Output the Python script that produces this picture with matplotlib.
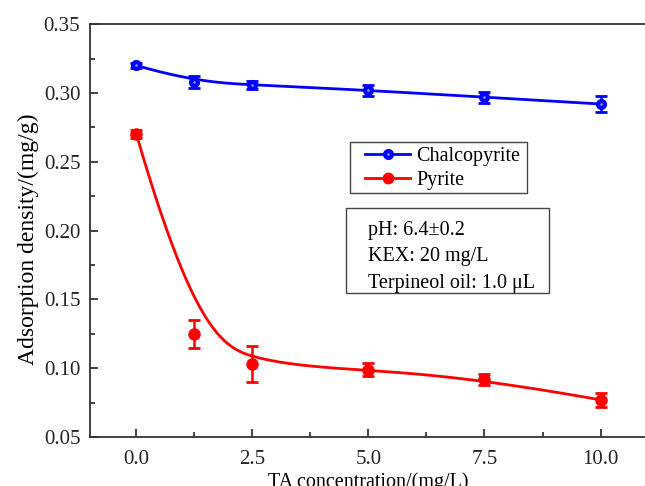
import numpy as np
import matplotlib
matplotlib.use('Agg')
import matplotlib.pyplot as plt
from matplotlib.patches import Rectangle
from matplotlib.legend_handler import HandlerTuple

# ── DATA ─────────────────────────────────────────────────────────
ta_conc = [0.0, 1.25, 2.5, 5.0, 7.5, 10.0]

chalco_y   = [0.320, 0.308, 0.306, 0.302, 0.297, 0.292]
chalco_err = [0.002, 0.004, 0.003, 0.004, 0.004, 0.006]

pyrite_y   = [0.270, 0.125, 0.103, 0.099, 0.092, 0.077]
pyrite_err = [0.003, 0.010, 0.013, 0.005, 0.004, 0.005]

conditions = ["pH: 6.4\u00b10.2", "KEX: 20 mg/L", "Terpineol oil: 1.0 \u03bcL"]


def bspline(xp, yp, degree=3, n=400):
    """Clamped uniform B-spline using the data points as control points
    (like Origin's 'B-Spline' connect mode)."""
    P = np.column_stack([xp, yp])
    m = len(P)
    inner = np.linspace(0, 1, m - degree + 1)[1:-1]
    t = np.concatenate([np.zeros(degree + 1), inner, np.ones(degree + 1)])
    u = np.linspace(0, 1, n)
    u[-1] -= 1e-12
    # Cox-de Boor
    N = np.array([((t[i] <= u) & (u < t[i + 1])).astype(float)
                  for i in range(len(t) - 1)])
    for p in range(1, degree + 1):
        Nn = np.zeros((len(t) - 1 - p, n))
        for i in range(len(t) - 1 - p):
            a = 0.0 if t[i + p] == t[i] else (u - t[i]) / (t[i + p] - t[i]) * N[i]
            b = 0.0 if t[i + p + 1] == t[i + 1] else \
                (t[i + p + 1] - u) / (t[i + p + 1] - t[i + 1]) * N[i + 1]
            Nn[i] = a + b
        N = Nn
    C = N.T @ P
    return C[:, 0], C[:, 1]


plt.rcParams['font.family'] = ['Liberation Serif', 'DejaVu Serif']

fig = plt.figure(figsize=(6.45, 4.86), dpi=100)
ax = fig.add_axes([0.1395, 0.1008, 0.8635, 0.8494])

BLUE = '#0000ff'
RED = '#ff0000'
DOT = '#8fa3ff'

# B-spline connecting curves
bx, by = bspline(ta_conc, chalco_y)
ax.plot(bx, by, color=BLUE, lw=2.0, zorder=2)
bx, by = bspline(ta_conc, pyrite_y)
ax.plot(bx, by, color=RED, lw=2.0, zorder=2)

# data with error bars
ax.errorbar(ta_conc, chalco_y, yerr=chalco_err, fmt='o', color=BLUE,
            ms=7, capsize=4, capthick=2, elinewidth=1.8, zorder=3)
ax.plot(ta_conc, chalco_y, 'o', color=DOT, ms=1.8, mew=0, zorder=4)
ax.errorbar(ta_conc, pyrite_y, yerr=pyrite_err, fmt='o', color=RED,
            ms=8, capsize=4, capthick=2, elinewidth=1.8, zorder=3)

# ── AXES ─────────────────────────────────────────────────────────
ax.set_xlim(-1, 11)
ax.set_ylim(0.05, 0.35)
ax.set_xticks([0.0, 2.5, 5.0, 7.5, 10.0])
ax.set_xticks([1.25, 3.75, 6.25, 8.75], minor=True)
ax.set_yticks(np.arange(0.05, 0.351, 0.05))
ax.set_yticks(np.arange(0.075, 0.35, 0.05), minor=True)
ax.xaxis.set_major_formatter(matplotlib.ticker.FormatStrFormatter('%.1f'))
ax.yaxis.set_major_formatter(matplotlib.ticker.FormatStrFormatter('%.2f'))
ax.tick_params(which='both', direction='in', labelsize=15, width=1.2,
               top=False, right=False, colors='#222222')
ax.tick_params(which='major', length=6)
ax.tick_params(which='minor', length=3.5)
ax.tick_params(axis='x', pad=9.5)
ax.tick_params(axis='y', pad=7)
for sp in ax.spines.values():
    sp.set_linewidth(1.3)
    sp.set_color('#333333')
ax.spines['right'].set_visible(False)

ax.set_xlabel('TA concentration/(mg/L)', fontsize=14.5, labelpad=2)
ax.set_ylabel('Adsorption density/(mg/g)', fontsize=17)
ax.yaxis.set_label_coords(-0.092, 0.479)

# ── LEGEND ───────────────────────────────────────────────────────
h_c = (plt.Line2D([0], [0], color=BLUE, lw=2, marker='o', ms=7),
       plt.Line2D([0], [0], ls='none', marker='o', color=DOT, ms=1.8, mew=0))
h_p = plt.Line2D([0], [0], color=RED, lw=2, marker='o', ms=7.5)
ax.legend([h_c, h_p], ['Chalcopyrite', 'Pyrite'],
          handler_map={tuple: HandlerTuple(ndivide=1)},
          loc='upper left', bbox_to_anchor=(0.494, 0.702),
          borderaxespad=0, borderpad=0, fontsize=14.5, frameon=False,
          handlelength=2.25, handletextpad=0.3, labelspacing=0.25)
ax.add_patch(Rectangle((0.4668, 0.5908), 0.3178, 0.1235, transform=ax.transAxes,
                       fill=False, edgecolor='#444444', lw=1.0, zorder=5))

# ── CONDITIONS BOX ───────────────────────────────────────────────
ax.add_patch(Rectangle((0.46, 0.349), 0.364, 0.2055, transform=ax.transAxes,
                       fill=False, edgecolor='#444444', lw=1.0, zorder=5))
for i, line in enumerate(conditions):
    ax.text(0.499, 0.501 - i * 0.064, line, transform=ax.transAxes,
            fontsize=14.5, va='center', ha='left')

fig.savefig('out.png', dpi=100, facecolor='white')
